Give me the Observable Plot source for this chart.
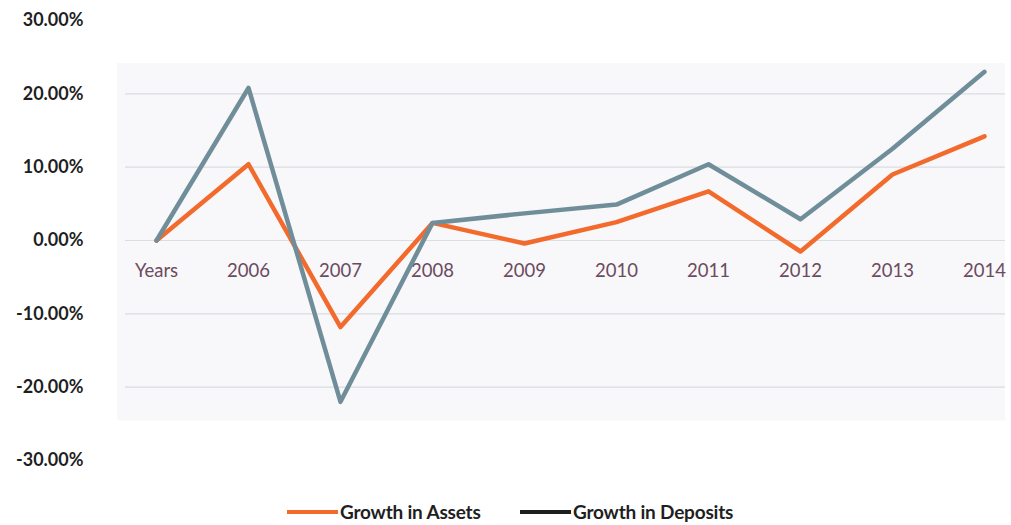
<!DOCTYPE html>
<html>
<head>
<meta charset="utf-8">
<script src="https://cdn.jsdelivr.net/npm/d3@7"></script>
<script src="https://cdn.jsdelivr.net/npm/@observablehq/plot@0.6"></script>
<style>
  html, body { margin: 0; padding: 0; background: #ffffff; }
  body { width: 1011px; height: 525px; overflow: hidden; font-family: Lato, "Open Sans", sans-serif; }
  #legend { position: relative; height: 35px; }
  .item { position: absolute; top: 10px; display: flex; align-items: center; font-weight: bold; font-size: 19px; color: #1f1f1f; letter-spacing: -0.2px; }
  .sw { display: inline-block; width: 51px; height: 4px; margin-right: 2px; }
</style>
</head>
<body>
<div id="chart"></div>
<div id="legend">
  <div class="item" style="left:287px"><span class="sw" style="background:#f26a2c"></span>Growth in Assets</div>
  <div class="item" style="left:520px"><span class="sw" style="background:#1e1e1e"></span>Growth in Deposits</div>
</div>
<script>
const categories = ["Years", "2006", "2007", "2008", "2009", "2010", "2011", "2012", "2013", "2014"];
const growthAssets = [0, 10.4, -11.8, 2.4, -0.4, 2.5, 6.7, -1.5, 9.0, 14.2];
const growthDeposits = [0, 20.8, -22.0, 2.4, 3.7, 4.9, 10.4, 2.9, 12.5, 23.0];
const yTicks = [-30, -20, -10, 0, 10, 20, 30];
const gridTicks = [-20, -10, 0, 10, 20];
const plotBand = [{top: 24.1, bottom: -24.6}];

const assetsData = categories.map((c, i) => ({cat: c, v: growthAssets[i]}));
const depositsData = categories.map((c, i) => ({cat: c, v: growthDeposits[i]}));

const chart = Plot.plot({
  width: 1011,
  height: 490,
  marginLeft: 117,
  marginRight: 6,
  marginTop: 20,
  marginBottom: 30,
  style: {fontFamily: "Lato, 'Open Sans', sans-serif", background: "#ffffff"},
  x: {type: "point", domain: categories, padding: 0, insetLeft: 38, insetRight: 20, axis: null},
  y: {domain: [-30, 30], ticks: yTicks, tickSize: 0, tickPadding: 34, tickFormat: d => d.toFixed(2) + "%", label: null},
  marks: [
    Plot.rect(plotBand, {y1: "top", y2: "bottom", fill: "#f8f7f9"}),
    Plot.ruleY(gridTicks, {stroke: "#d9dee1", strokeWidth: 1.2, insetLeft: 8}),
    Plot.axisY({ticks: yTicks, tickSize: 0, tickPadding: 34, tickFormat: d => d.toFixed(2) + "%", fontSize: 18, fontWeight: "bold", fill: "#1f1f1f", letterSpacing: "-0.3px", label: null}),
    Plot.text(categories, {x: d => d, y: 0, dy: 31, text: d => d, fontSize: 18.5, fill: "#6b4b60"}),
    Plot.line(assetsData, {x: "cat", y: "v", stroke: "#f26a2c", strokeWidth: 4.5}),
    Plot.line(depositsData, {x: "cat", y: "v", stroke: "#6f8e99", strokeWidth: 4.5})
  ]
});
document.getElementById("chart").appendChild(chart);
</script>
</body>
</html>
